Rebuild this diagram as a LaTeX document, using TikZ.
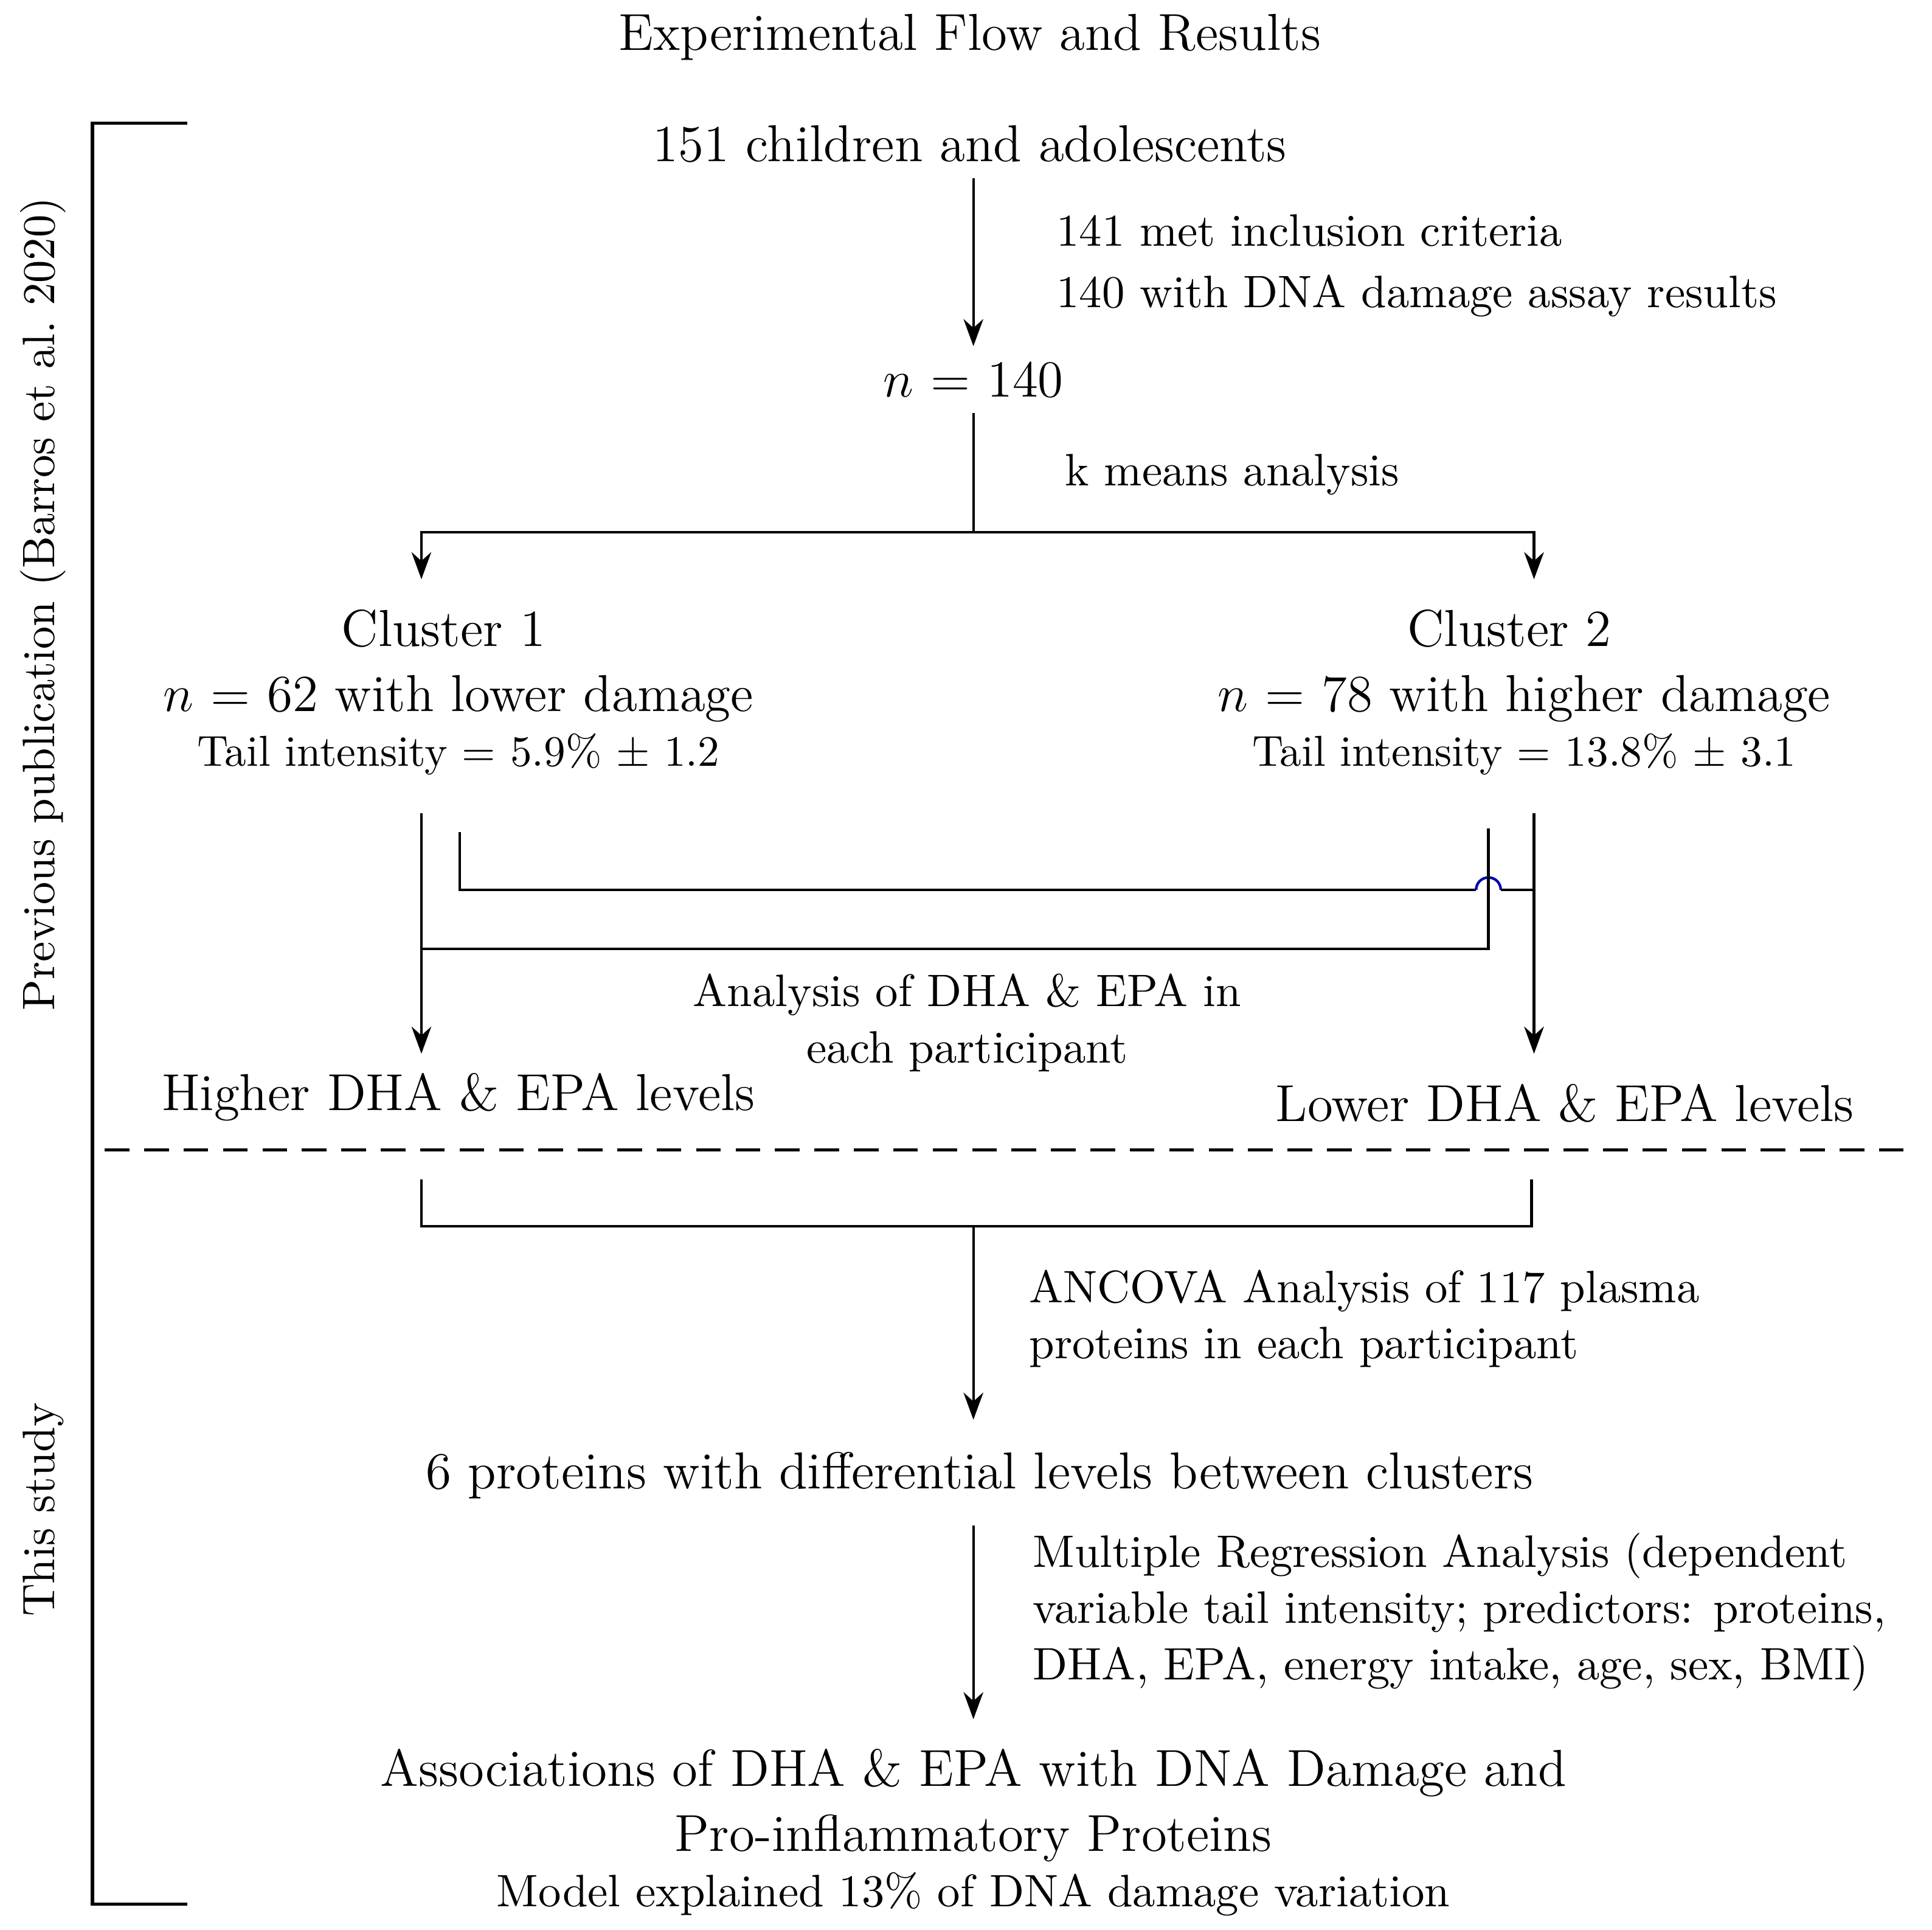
\documentclass[tikz,border=0pt]{standalone}
\usetikzlibrary{arrows.meta}
\begin{document}
\begin{tikzpicture}[x=0.1mm,y=-0.1mm,
    big/.style={font=\fontsize{12}{15}\selectfont},
    mid/.style={font=\fontsize{10.5}{13}\selectfont},
    small/.style={font=\fontsize{10}{12}\selectfont},
    note/.style={mid,anchor=west,align=left},
    flow/.style={semithick,-{Stealth[length=2.2mm,width=1.6mm]}},
    line/.style={semithick}]
    \useasboundingbox (0,0) rectangle (1568,1566);
    % title and bracket
    \node[big] (title) at (787,30) {Experimental Flow and Results};
    \draw[thick] (152,100) -- (75,100) -- (75,1545) -- (152,1545);
    \node[mid,rotate=90] (prev) at (35,490) {Previous publication (Barros et al.\ 2020)};
    \node[mid,rotate=90] (this) at (35,1225) {This study};
    % top part
    \node[big] (kids) at (787,117) {151 children and adolescents};
    \node[note] (incl) at (845,187) {141 met inclusion criteria};
    \node[note] (dna) at (845,240) {140 with DNA damage assay results};
    \node[big] (n140) at (790,308) {$n$ = 140};
    \draw[flow] (kids.south -| n140) -- (n140);
    \node[note] (kmeans) at (852,385) {k means analysis};
    \coordinate (split) at (790,432);
    \draw[line] (n140) -- (split);
    \node[big] (c1) at (360,510) {Cluster 1};
    \node[big] (c1n) at (372,567) {$n$ = 62 with lower damage};
    \node[small] (c1t) at (372,612) {Tail intensity = 5.9\% $\pm$ 1.2};
    \node[big] (c2) at (1225,510) {Cluster 2};
    \node[big] (c2n) at (1237,567) {$n$ = 78 with higher damage};
    \node[small] (c2t) at (1237,612) {Tail intensity = 13.8\% $\pm$ 3.1};
    \draw[flow] (split) -| (342,470);
    \draw[flow] (split) -| (1245,470);
    % crossing lines
    \node[big] (hi) at (372,890) {Higher DHA \& EPA levels};
    \node[big] (lo) at (1270,895) {Lower DHA \& EPA levels};
    \draw[flow] (342,660) -- (342,855);
    \draw[flow] (1245,660) -- (1245,855);
    \draw[line] (373,675) -- (373,722) -- (1198,722);
    \draw[line,blue!70!black] (1198,722) arc (180:360:10);
    \draw[line] (1218,722) -- (1245,722);
    \draw[line] (1208,672) -- (1208,770) -- (342,770);
    \node[mid,align=center] (dhaepa) at (785,830) {Analysis of DHA \& EPA in\\each participant};
    % divider
    \draw[thick,dash pattern=on 2mm off 1.2mm] (85,933) -- (1555,933);
    % lower part
    \draw[line] (342,957) -- (342,995) -- (1243,995) -- (1243,957);
    \node[big] (six) at (795,1197) {6 proteins with differential levels between clusters};
    \draw[flow] (790,995) -- (790,1152);
    \node[note] (ancova) at (823,1070) {ANCOVA Analysis of 117 plasma\\proteins in each participant};
    \node[big,align=center] (assoc) at (790,1465) {Associations of DHA \& EPA with DNA Damage and\\Pro-inflammatory Proteins};
    \node[mid] (model) at (790,1537) {Model explained 13\% of DNA damage variation};
    \draw[flow] (790,1238) -- (790,1395);
    \node[note] (regr) at (826,1308) {Multiple Regression Analysis (dependent\\variable tail intensity; predictors: proteins,\\DHA, EPA, energy intake, age, sex, BMI)};
\end{tikzpicture}
\end{document}
